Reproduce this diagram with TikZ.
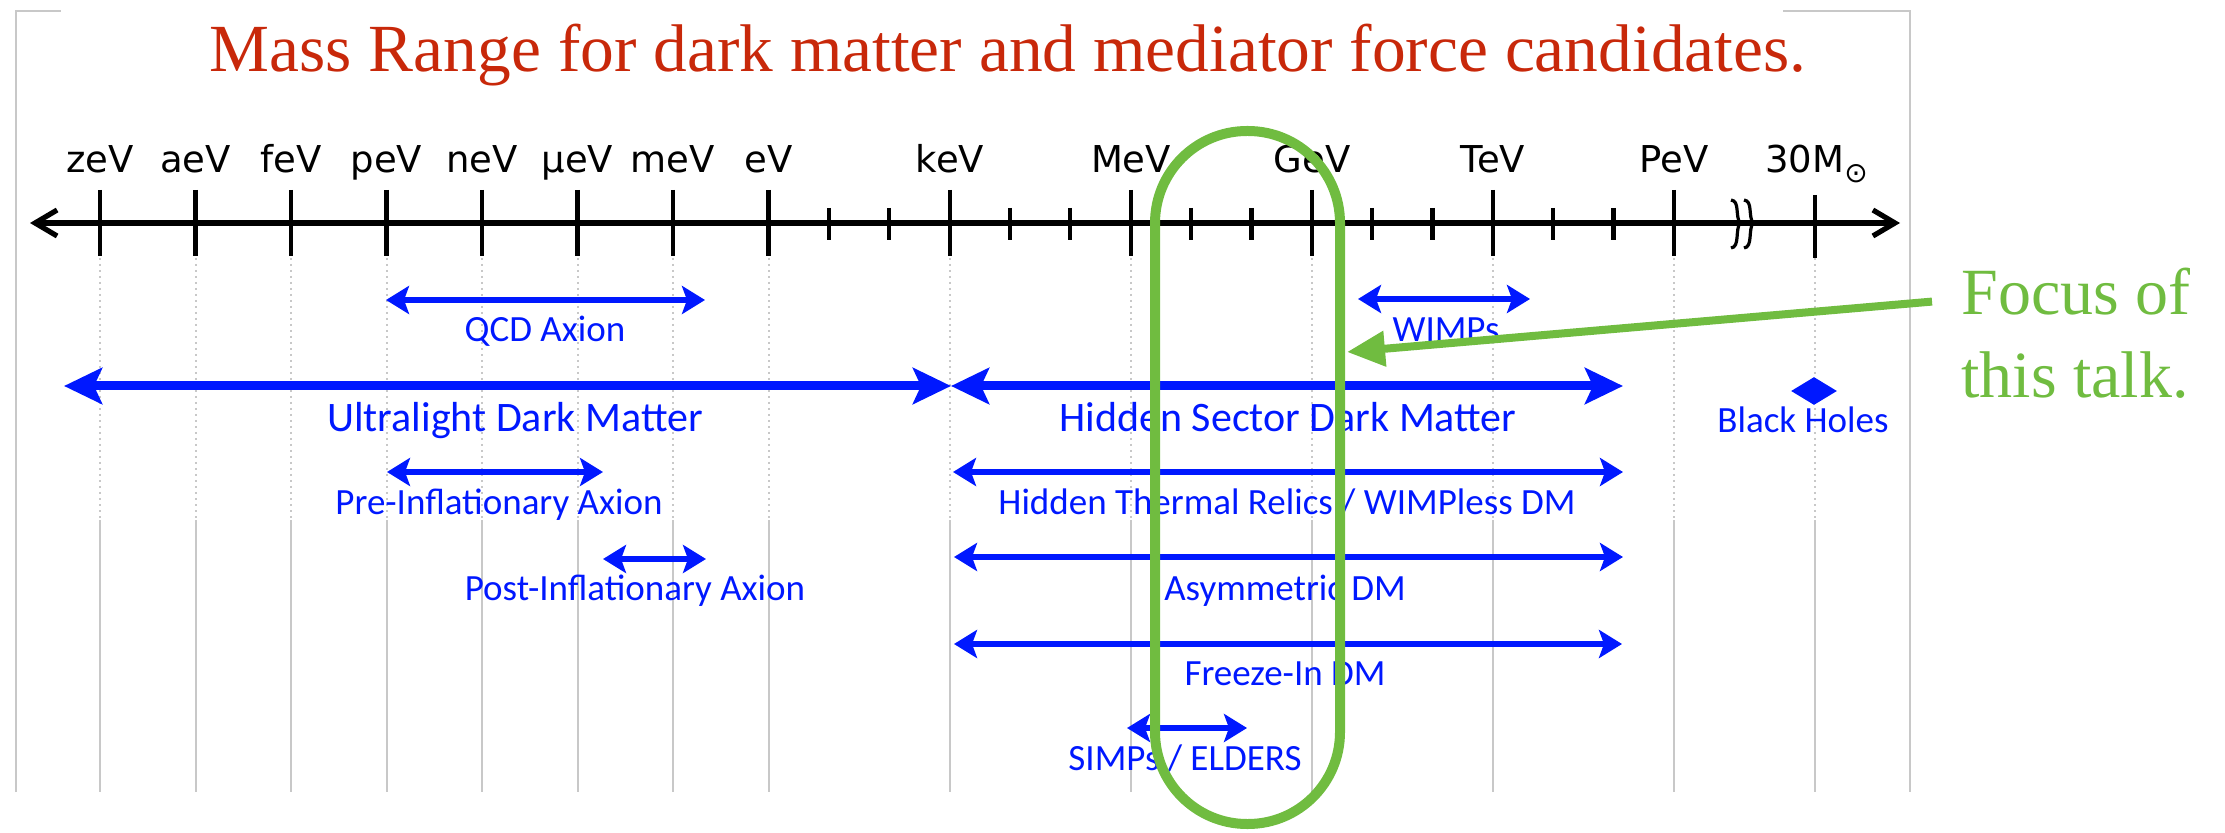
\documentclass[tikz,border=0pt]{standalone}
\usepackage{fontspec}
\setmainfont{Liberation Serif}
\newfontfamily\unitfont{DejaVu Sans}
\newfontfamily\rangefont{Carlito}
\usetikzlibrary{positioning,arrows.meta,shapes.geometric,calc}
\definecolor{titlered}{RGB}{200,40,10}
\definecolor{talkgreen}{RGB}{112,188,64}
\definecolor{rangeblue}{RGB}{0,24,255}
\definecolor{framegray}{RGB}{200,200,200}

\begin{document}
\begin{tikzpicture}[
  x=0.5pt, y=-0.5pt,
  unitlbl/.style={font=\unitfont\fontsize{18.5}{20}\selectfont, anchor=base, inner sep=0pt},
  lbl/.style={font=\rangefont\fontsize{18.5}{20}\selectfont, text=rangeblue, anchor=base, inner sep=0pt},
  biglbl/.style={lbl, font=\rangefont\fontsize{21}{24}\selectfont},
  massspan/.style={>={Stealth[length=11.5pt,width=14pt,inset=2.5pt]}, <->, line width=3.4pt, draw=rangeblue},
  widespan/.style={>={Stealth[length=19pt,width=18pt,inset=4pt]}, <->, line width=4.5pt, draw=rangeblue},
  axisline/.style={>={Straight Barb[length=11pt,width=13pt]}, <->, line width=2.6pt},
  axistick/.style={line width=2.2pt},
  gridline/.style={framegray, line width=1pt},
  pointer/.style={-{Triangle[length=19pt,width=17pt]}, line width=4pt, talkgreen},
  focusbox/.style={draw=talkgreen, line width=5pt, rounded corners=46pt, minimum width=92.5pt, minimum height=346.5pt},
]
  \useasboundingbox (0,0) rectangle (2225,833);
  \draw[gridline] (16,792) -- (16,11) -- (61,11);
  \draw[gridline] (1783,11) -- (1910,11) -- (1910,792);

  \node[font=\fontsize{33.7}{40}\selectfont, text=titlered, anchor=base, inner sep=0pt] (title) at (1008,72)
    {Mass Range for dark matter and mediator force candidates.};

  \foreach \x in {100,195.5,291,386.5,482,577.5,673,768.5,950,1131,1312,1493,1674,1815}{
    \draw[gridline, dotted] (\x,258) -- (\x,520);
    \draw[gridline] (\x,520) -- (\x,792);
  }

  \coordinate (axL) at (30,223);
  \coordinate (axR) at (1900,223);
  \draw[axisline] (axL) -- (axR);
  \foreach \x/\u [count=\i] in {100/zeV,195.5/aeV,291/feV,386.5/peV,482/neV,577.5/µeV,673/meV,768.5/eV,950/keV,1131/MeV,1312/GeV,1493/TeV,1674/PeV}{
    \draw[axistick] (\x,190) -- (\x,256);
    \node[unitlbl] (u\i) at (\x,173) {\u};
  }
  \foreach \k in {1,2,4,5,7,8,10,11,13,14}
    \draw[axistick] ({768.5+60.35*\k},208) -- ++(0,32);
  \draw[axistick] (1815,195) -- (1815,258);
  \node[unitlbl, anchor=base west] (u14) at (1765,173) {30M\raisebox{-5pt}{\fontsize{14}{14}\selectfont ⊙}};
  \foreach \s in {0,13}
    \draw[line width=1.6pt] ({1731+\s},200) .. controls ({1740+\s},201) and ({1735+\s},216) .. ({1740+\s},223)
      .. controls ({1735+\s},230) and ({1740+\s},247) .. ({1731+\s},248);

  \coordinate (qcdL) at (386,300);   \coordinate (qcdR) at (705,300);
  \coordinate (wimpL) at (1358,299); \coordinate (wimpR) at (1530,299);
  \coordinate (uldmL) at (64,386);   \coordinate (uldmR) at (951,386);
  \coordinate (hsdmL) at (951,386);  \coordinate (hsdmR) at (1623,386);
  \coordinate (preL) at (387,472);   \coordinate (preR) at (603,472);
  \coordinate (htrL) at (953,472);   \coordinate (htrR) at (1623,472);
  \coordinate (postL) at (603,559);  \coordinate (postR) at (706,559);
  \coordinate (asymL) at (954,557);  \coordinate (asymR) at (1623,557);
  \coordinate (frzL) at (954,644);   \coordinate (frzR) at (1622,644);
  \coordinate (simpL) at (1127,728); \coordinate (simpR) at (1247,728);

  \draw[massspan] (qcdL) -- (qcdR);
  \draw[massspan] (wimpL) -- (wimpR);
  \draw[widespan] (uldmL) -- (uldmR);
  \draw[widespan] (hsdmL) -- (hsdmR);
  \draw[massspan] (preL) -- (preR);
  \draw[massspan] (htrL) -- (htrR);
  \draw[massspan] (postL) -- (postR);
  \draw[massspan] (asymL) -- (asymR);
  \draw[massspan] (frzL) -- (frzR);
  \draw[massspan] (simpL) -- (simpR);
  \node[diamond, fill=rangeblue, inner sep=0pt, minimum width=23pt, minimum height=14pt] (bh) at (1814,391) {};

  \node[lbl] (qcdlbl) at (545,342) {QCD Axion};
  \node[lbl] (wimplbl) at (1446,342) {WIMPs};
  \node[biglbl] (uldmlbl) at (515,432) {Ultralight Dark Matter};
  \node[biglbl] (hsdmlbl) at (1288,432) {Hidden Sector Dark Matter};
  \node[lbl] (bhlbl) at (1803,433) {Black Holes};
  \node[lbl] (prelbl) at (499,515) {Pre-Inflationary Axion};
  \node[lbl] (htrlbl) at (1287,515) {Hidden Thermal Relics / WIMPless DM};
  \node[lbl] (postlbl) at (635,600) {Post-Inflationary Axion};
  \node[lbl] (asymlbl) at (1285,600) {Asymmetric DM};
  \node[lbl] (frzlbl) at (1285,685) {Freeze-In DM};
  \node[lbl] (simplbl) at (1185,770) {SIMPs / ELDERS};

  \node[focusbox] (focus) at (1247.5,477.5) {};
  \node[font=\fontsize{33}{41}\selectfont, text=talkgreen, anchor=base west, inner sep=0pt] (talk1) at (1961,315) {Focus of};
  \node[font=\fontsize{33}{41}\selectfont, text=talkgreen, anchor=base west, inner sep=0pt] (talk2) at (1961,398) {this talk.};
  \coordinate (tip) at (1347,352);
  \draw[pointer] ([xshift=-14.5pt,yshift=-4.75pt]talk1.west) -- (tip);
\end{tikzpicture}
\end{document}
